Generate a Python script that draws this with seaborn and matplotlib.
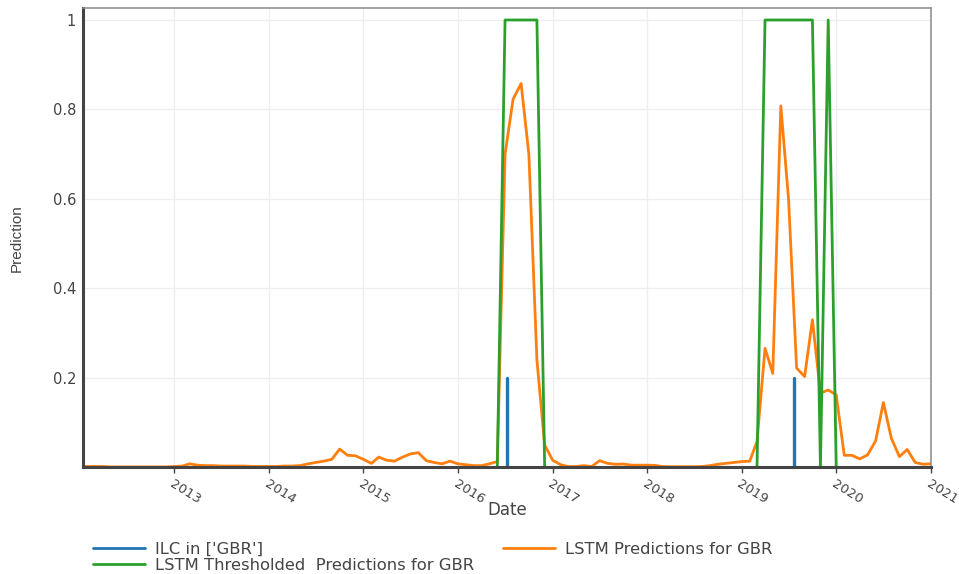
import numpy as np
import pandas as pd
import matplotlib
matplotlib.use("Agg")
import matplotlib.pyplot as plt
import matplotlib.dates as mdates
from matplotlib.lines import Line2D
import seaborn as sns

# ---------------- data (monthly, Jan 2012 .. Jan 2021) ----------------
dates = pd.date_range("2012-01-01", "2021-01-01", freq="MS")

lstm_pred = [
    0.003, 0.002, 0.002, 0.002,
    0.001, 0.001, 0.001, 0.001, 0.001, 0.001, 0.001, 0.001,
    0.002, 0.003, 0.008, 0.005, 0.004, 0.004, 0.003, 0.003, 0.003, 0.003, 0.002, 0.002,
    0.002, 0.002, 0.003, 0.003, 0.004, 0.008, 0.011, 0.014, 0.018, 0.041, 0.027, 0.026,
    0.018, 0.009, 0.023, 0.016, 0.014, 0.023, 0.030, 0.033, 0.015, 0.011, 0.008, 0.014,
    0.008, 0.006, 0.004, 0.004, 0.008, 0.013, 0.700, 0.823, 0.858, 0.700, 0.240, 0.050,
    0.016, 0.006, 0.002, 0.002, 0.004, 0.002, 0.015, 0.009, 0.007, 0.0075, 0.005, 0.005,
    0.005, 0.0045, 0.002, 0.0015, 0.0015, 0.0015, 0.0015, 0.002, 0.004, 0.007, 0.009, 0.011,
    0.013, 0.014, 0.058, 0.266, 0.210, 0.808, 0.598, 0.222, 0.203, 0.330, 0.166, 0.173,
    0.162, 0.027, 0.027, 0.019, 0.028, 0.059, 0.145, 0.065, 0.024, 0.040, 0.011, 0.007,
    0.008,
]

lstm_thresh = [
    0, 0, 0, 0, 0, 0, 0, 0, 0, 0, 0, 0,
    0, 0, 0, 0, 0, 0, 0, 0, 0, 0, 0, 0,
    0, 0, 0, 0, 0, 0, 0, 0, 0, 0, 0, 0,
    0, 0, 0, 0, 0, 0, 0, 0, 0, 0, 0, 0,
    0, 0, 0, 0, 0, 0, 1, 1, 1, 1, 1, 0,
    0, 0, 0, 0, 0, 0, 0, 0, 0, 0, 0, 0,
    0, 0, 0, 0, 0, 0, 0, 0, 0, 0, 0, 0,
    0, 0, 0, 1, 1, 1, 1, 1, 1, 1, 0, 1,
    0, 0, 0, 0, 0, 0, 0, 0, 0, 0, 0, 0,
    0,
]

ilc_dates = ["2016-07-10", "2019-07-20"]
ilc_values = [0.2, 0.2]

y_ticks = [0.2, 0.4, 0.6, 0.8, 1.0]
y_ticklabels = ["0.2", "0.4", "0.6", "0.8", "1"]

label_ilc = "ILC in ['GBR']"
label_pred = "LSTM Predictions for GBR"
label_thresh = "LSTM Thresholded  Predictions for GBR"

# ---------------- style ----------------
sns.set_theme(style="white")
plt.rcParams["font.family"] = ["DejaVu Sans"]

C_BLUE, C_ORANGE, C_GREEN = "#1f77b4", "#ff7f0e", "#2ca02c"
TXT = "#444444"

fig = plt.figure(figsize=(9.59, 5.74), dpi=100)
W, H = 959, 574
ax = fig.add_axes([83 / W, 1 - 467.4 / H, 848 / W, 459.4 / H])

df = pd.DataFrame({"Date": dates, "pred": lstm_pred, "thresh": lstm_thresh})

rows = []
for i, (d, v) in enumerate(zip(ilc_dates, ilc_values)):
    rows.append({"Date": pd.Timestamp(d), "value": 0.0, "event": i})
    rows.append({"Date": pd.Timestamp(d), "value": v, "event": i})
ilc_df = pd.DataFrame(rows)

LW = 2.0
sns.lineplot(data=ilc_df, x="Date", y="value", units="event", estimator=None,
             sort=False, color=C_BLUE, lw=LW + 0.4, ax=ax, legend=False, zorder=3)
sns.lineplot(data=df, x="Date", y="pred", color=C_ORANGE, lw=LW, ax=ax,
             legend=False, zorder=4)
sns.lineplot(data=df, x="Date", y="thresh", color=C_GREEN, lw=LW, ax=ax,
             legend=False, zorder=5)

ax.set_xlim(pd.Timestamp("2012-01-14"), pd.Timestamp("2021-01-01"))
ax.set_ylim(0, 1.0268)

ax.xaxis.set_major_locator(mdates.YearLocator())
ax.xaxis.set_major_formatter(mdates.DateFormatter("%Y"))
ax.set_yticks(y_ticks)
ax.set_yticklabels(y_ticklabels)

ax.grid(True, color="#ebeff2", lw=0.9, zorder=0)
ax.set_axisbelow(True)

ax.tick_params(axis="x", length=4, width=1, color=TXT, direction="out",
               pad=3, labelsize=9.5, labelcolor=TXT, bottom=True)
ax.tick_params(axis="y", length=0, pad=5, labelsize=10.5, labelcolor=TXT)
plt.setp(ax.get_xticklabels(), rotation=-32, ha="left", va="top",
         rotation_mode="anchor")

for side in ["left", "bottom"]:
    ax.spines[side].set_color("#444444")
    ax.spines[side].set_linewidth(2.2)
for side in ["top", "right"]:
    ax.spines[side].set_color("#8a8a8a")
    ax.spines[side].set_linewidth(1.1)
for s in ax.spines.values():
    s.set_zorder(6)

ax.set_xlabel("Date", fontsize=12, color=TXT)
ax.xaxis.label.set_va("center")
ax.xaxis.set_label_coords(0.5, -0.093)
ax.set_ylabel("Prediction", fontsize=11, color=TXT,
              family=["Liberation Sans Narrow", "Liberation Sans", "DejaVu Sans"])
ax.yaxis.label.set_va("center")
ax.yaxis.set_label_coords(-0.078, 0.5)

h_ilc = Line2D([], [], color=C_BLUE, lw=LW)
h_pred = Line2D([], [], color=C_ORANGE, lw=LW)
h_thr = Line2D([], [], color=C_GREEN, lw=LW)

common = dict(loc="upper left", frameon=False, handlelength=3.2, handletextpad=0.6,
              labelspacing=0.05, fontsize=11.8, borderaxespad=0, borderpad=0,
              labelcolor=TXT)
leg1 = fig.legend([h_ilc, h_thr], [label_ilc, label_thresh],
                  bbox_to_anchor=(93 / W, 1 - 542 / H), **common)
leg2 = fig.legend([h_pred], [label_pred],
                  bbox_to_anchor=(503 / W, 1 - 542 / H), **common)

fig.savefig("out.png", dpi=100)
